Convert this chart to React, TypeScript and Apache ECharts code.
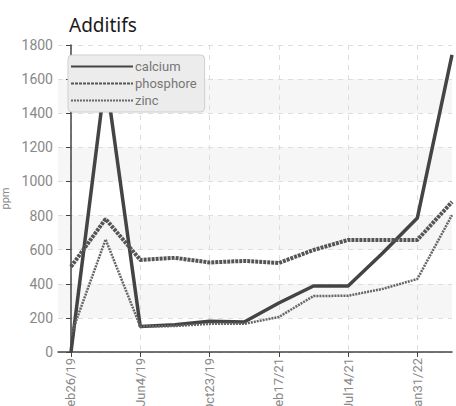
import React, { useEffect, useRef } from "react";
import * as echarts from "echarts";

const categories = [
  "Feb26/19", "Apr1/19", "Jun4/19", "Aug12/19", "Oct23/19", "Jan9/20",
  "Feb17/21", "May3/21", "Jul14/21", "Oct5/21", "Jan31/22", "Apr20/22",
];
const calcium = [0, 1620, 150, 160, 180, 176, 287, 387, 387, 580, 786, 1742];
const phosphore = [500, 780, 540, 552, 525, 534, 522, 598, 657, 657, 657, 880];
const zinc = [100, 660, 150, 152, 165, 165, 205, 328, 330, 370, 428, 803];
const labelIdx = [0, 2, 4, 6, 8, 10];

const FONT = "'Roboto', 'Liberation Sans', sans-serif";

export default function App() {
  const ref = useRef<HTMLDivElement>(null);
  useEffect(() => {
    document.body.style.margin = "0";
    if (!ref.current) return;
    const chart = echarts.init(ref.current, undefined, { renderer: "svg" });
    const toPts = (arr: number[]) => arr.map((v, i) => [i, v]);
    chart.setOption({
      animation: false,
      backgroundColor: "#ffffff",
      title: {
        text: "Additifs",
        left: 64,
        top: 10,
        textStyle: { fontFamily: "'Noto Sans', 'Open Sans', sans-serif", fontSize: 19, fontWeight: "normal", color: "#1a1a1a" },
      },
      legend: {
        orient: "vertical",
        left: 68,
        top: 55,
        backgroundColor: "#ececec",
        borderColor: "#cfcfcf",
        borderWidth: 1,
        borderRadius: 4,
        padding: [5, 8, 5, 2],
        itemGap: 4,
        itemWidth: 62,
        itemHeight: 14,
        itemStyle: { opacity: 0 },
        textStyle: { color: "#777", fontSize: 13, fontFamily: FONT, padding: [0, 0, 0, -3] },
        data: ["calcium", "phosphore", "zinc"],
      },
      grid: { left: 58, right: 4, top: 45, bottom: 54, containLabel: false, outerBoundsMode: "none" },
      xAxis: {
        type: "value",
        min: -0.375,
        max: 11,
        interval: 1,
        axisLine: { lineStyle: { color: "#444", width: 1.5 } },
        axisTick: { show: true, customValues: labelIdx, length: 5, lineStyle: { color: "#444" } },
        axisLabel: {
          customValues: labelIdx,
          rotate: 90,
          color: "#888",
          fontSize: 13,
          fontFamily: FONT,
          margin: 6,
          formatter: (v: number) => (Number.isInteger(v) ? categories[v] : ""),
        },
        splitLine: { show: true, lineStyle: { color: "#ddd", type: [5, 5], width: 1 } },
      },
      yAxis: {
        type: "value",
        min: 0,
        max: 1800,
        interval: 200,
        name: "ppm",
        nameLocation: "middle",
        nameGap: 38,
        nameTextStyle: { color: "#888", fontSize: 11, fontFamily: FONT },
        axisLine: { show: true, lineStyle: { color: "#444", width: 1.5 } },
        axisTick: { show: true, length: 5, lineStyle: { color: "#444" } },
        axisLabel: { color: "#888", fontSize: 14, fontFamily: FONT, margin: 5, formatter: (v: number) => String(v) },
        splitLine: { show: true, lineStyle: { color: "#ddd", type: [5, 5], width: 1 } },
        splitArea: { show: true, areaStyle: { color: ["rgba(255,255,255,0)", "#f6f6f6"] } },
      },
      series: [
        {
          name: "calcium",
          type: "line",
          data: toPts(calcium),
          symbol: "none",
          color: "#444",
          lineStyle: { color: "#444", width: 3.5 },
        },
        {
          name: "phosphore",
          type: "line",
          data: toPts(phosphore),
          symbol: "none",
          color: "#555",
          lineStyle: { color: "#555", width: 4, type: [3, 1] },
        },
        {
          name: "zinc",
          type: "line",
          data: toPts(zinc),
          symbol: "none",
          color: "#666",
          lineStyle: { color: "#666", width: 2.5, type: [2, 1] },
        },
      ],
    });
    return () => chart.dispose();
  }, []);
  return <div ref={ref} style={{ width: 456, height: 406 }} />;
}
